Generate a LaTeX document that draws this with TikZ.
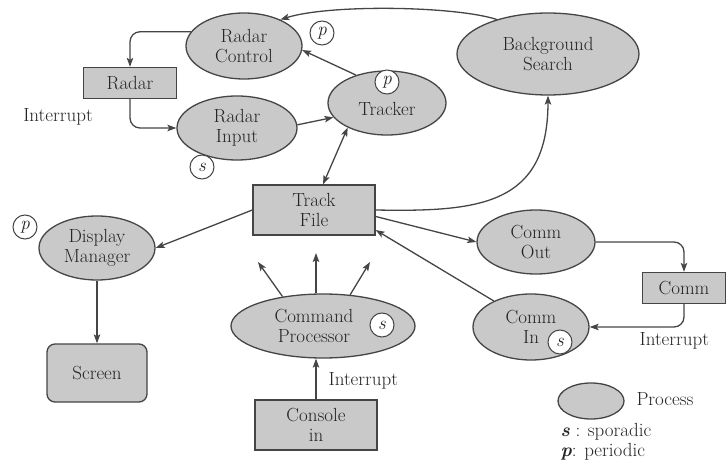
\documentclass[tikz,border=0pt]{standalone}
\usepackage{fontspec}
\usetikzlibrary{shapes.geometric,arrows.meta,calc}
\definecolor{inkc}{gray}{0.27}
\definecolor{procfill}{gray}{0.79}
\definecolor{txtc}{gray}{0.14}
\begin{document}
\begin{tikzpicture}[x=1pt,y=-1pt,
  every node/.style={text=txtc, font=\fontsize{19}{20.5}\selectfont},
  proc/.style={ellipse, draw=inkc, fill=procfill, line width=1.3pt, inner sep=0pt, align=center},
  dev/.style={rectangle, draw=inkc, fill=procfill, line width=1.3pt, inner sep=0pt, align=center},
  tag/.style={circle, draw=inkc, fill=white, line width=1pt, minimum size=24pt, inner sep=0pt,
              font=\fontsize{19}{20}\selectfont\itshape},
  tip/.tip={Stealth[length=9pt,width=6.5pt,inset=2pt]},
  flow/.style={draw=inkc, line width=1.3pt, -tip},
  flow2/.style={draw=inkc, line width=1.3pt, tip-tip}
]
\useasboundingbox (0,0) rectangle (726,465);

% processes and devices
\node[proc, minimum width=116pt, minimum height=66pt] (rc) at (244,46) {Radar\\Control};
\node[proc, minimum width=182pt, minimum height=82pt] (bs) at (548,54) {Background\\Search};
\node[dev, minimum width=93pt, minimum height=31pt] (radar) at (130,83) {Radar};
\node[proc, minimum width=120pt, minimum height=64pt] (ri) at (237,128) {Radar\\Input};
\node[proc, minimum width=118pt, minimum height=64pt] (trk) at (387,103) {};
\node (trkt) at (387,109) {Tracker};
\node[dev, minimum width=122pt, minimum height=50pt] (tf) at (314,210) {Track\\File};
\node[proc, minimum width=116pt, minimum height=64pt] (dm) at (97,248) {Display\\Manager};
\node[dev, rounded corners=8pt, minimum width=100pt, minimum height=58pt] (scr) at (97,373) {Screen};
\node[proc, minimum width=184pt, minimum height=64pt] (cp) at (323,326) {};
\node[align=center] (cpt) at (314,326) {Command\\Processor};
\node[dev, minimum width=122pt, minimum height=50pt] (con) at (316,425) {Console\\in};
\node[proc, minimum width=118pt, minimum height=64pt] (co) at (536,242) {Comm\\Out};
\node[dev, minimum width=83pt, minimum height=31pt] (cm) at (684,288) {Comm};
\node[proc, minimum width=116pt, minimum height=66pt] (ci) at (531,327) {Comm\\In};

% periodic / sporadic tags
\node[tag] (tRC) at (322,33) {p};
\node[tag] (tTrk) at (387,82) {p};
\node[tag] (tRI) at (202,167) {s};
\node[tag] (tDM) at (25,227) {p};
\node[tag] (tCP) at (382,325) {s};
\node[tag] (tCI) at (560,342) {s};

% interrupt labels
\node (intR) at (58,117) {Interrupt};
\node[anchor=base west] (intC) at (325,385) {Interrupt};
\node[anchor=base west] (intM) at (636,345) {Interrupt};

% legend
\node[proc, minimum width=66pt, minimum height=36pt] (lgE) at (591,401) {};
\node[anchor=base west] (lgT) at (633,405) {Process};
\node[anchor=base west] (lgS) at (557,436) {\textbf{\textit{s}} : sporadic};
\node[anchor=base west] (lgP) at (557,456) {\textbf{\textit{p}}: periodic};

% data flows
\draw[flow] (bs.146) .. controls (455,6) and (330,4) .. (rc.36);
\draw[flow, rounded corners=10pt] (rc.165) -| (radar.north);
\draw[flow, rounded corners=10pt] (radar.south) |- (ri.west);
\draw[flow] (ri.3) -- (trk.195);
\draw[flow] (trk.138) -- (rc.-4);
\draw[flow2] (trk.212) -- ([xshift=9pt]tf.north);
\draw[flow] (tf.east) .. controls (480,212) and (548,205) .. (bs.south);
\draw[flow] (tf.west) -- (dm.east);
\draw[flow] (dm.south) -- (scr.north);

\coordinate (cpa) at (258,262);
\coordinate (cpb) at (316,253);
\coordinate (cpc) at (370,262);
\draw[flow] (cp.144) -- (cpa);
\draw[flow] ([xshift=-7pt]cp.north) -- (cpb);
\draw[flow] (cp.49) -- (cpc);

\draw[flow] (tf.-6) -- (co.west);
\draw[flow] (ci.145) -- (tf.-18);
\draw[flow, rounded corners=10pt] (co.east) -| (cm.north);
\draw[flow, rounded corners=10pt] (cm.south) |- (ci.east);
\draw[flow] (con.north) -- (con.north |- cp.south);
\end{tikzpicture}
\end{document}
